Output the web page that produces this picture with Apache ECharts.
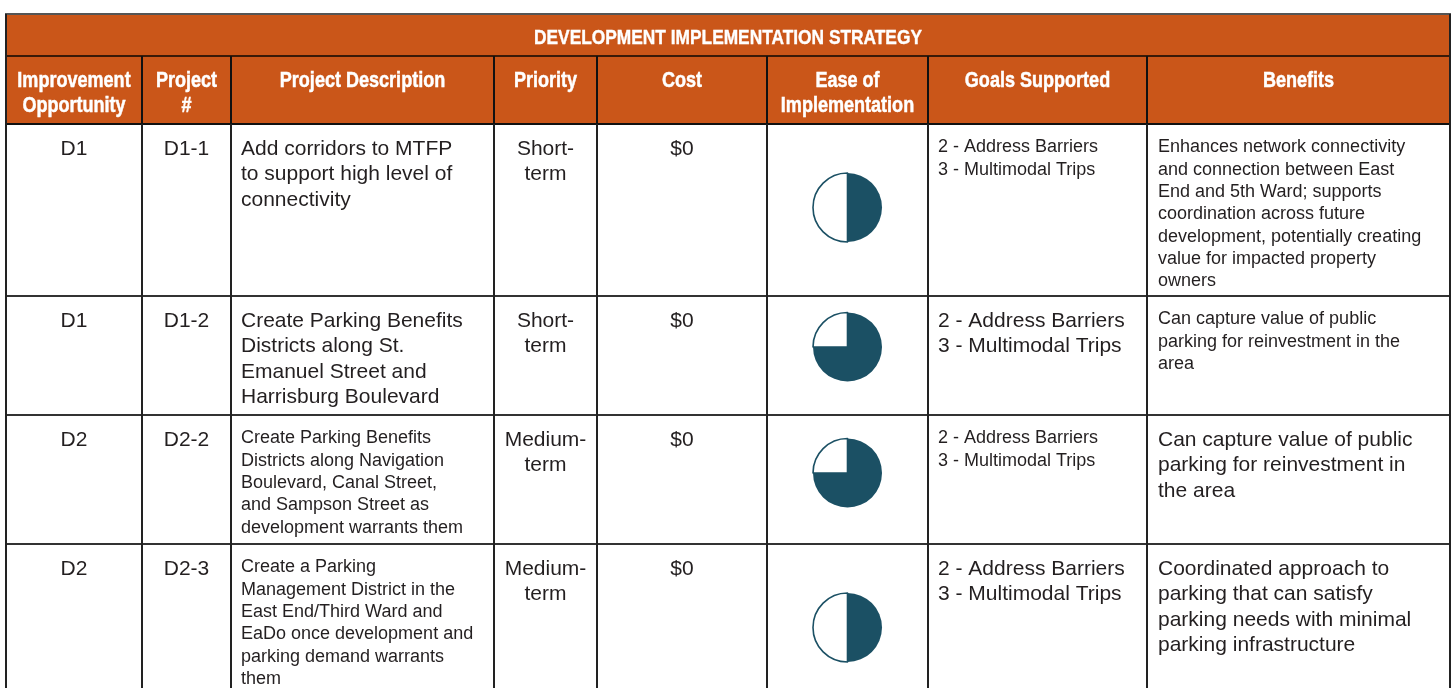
<!DOCTYPE html>
<html>
<head>
<meta charset="utf-8">
<script src="https://cdn.jsdelivr.net/npm/echarts@6/dist/echarts.min.js"></script>
<style>
html,body{margin:0;padding:0;background:#fff;}
#chart{width:1454px;height:688px;}
</style>
</head>
<body>
<div id="chart"></div>
<script>
// ---------- DATA ----------
const tableTitle = 'DEVELOPMENT IMPLEMENTATION STRATEGY';
const columnHeaders = ['Improvement\nOpportunity', 'Project\n#', 'Project Description', 'Priority', 'Cost', 'Ease of\nImplementation', 'Goals Supported', 'Benefits'];
const opportunity = ['D1', 'D1', 'D2', 'D2'];
const projectNo = ['D1-1', 'D1-2', 'D2-2', 'D2-3'];
const description = [
  'Add corridors to MTFP\nto support high level of\nconnectivity',
  'Create Parking Benefits\nDistricts along St.\nEmanuel Street and\nHarrisburg Boulevard',
  'Create Parking Benefits\nDistricts along Navigation\nBoulevard, Canal Street,\nand Sampson Street as\ndevelopment warrants them',
  'Create a Parking\nManagement District in the\nEast End/Third Ward and\nEaDo once development and\nparking demand warrants\nthem'
];
const priority = ['Short-\nterm', 'Short-\nterm', 'Medium-\nterm', 'Medium-\nterm'];
const cost = ['$0', '$0', '$0', '$0'];
const easeFilled = [0.5, 0.75, 0.75, 0.5];   // share of the Harvey ball that is filled
const goals = [
  '2 - Address Barriers\n3 - Multimodal Trips',
  '2 - Address Barriers\n3 - Multimodal Trips',
  '2 - Address Barriers\n3 - Multimodal Trips',
  '2 - Address Barriers\n3 - Multimodal Trips'
];
const benefits = [
  'Enhances network connectivity\nand connection between East\nEnd and 5th Ward; supports\ncoordination across future\ndevelopment, potentially creating\nvalue for impacted property\nowners',
  'Can capture value of public\nparking for reinvestment in the\narea',
  'Can capture value of public\nparking for reinvestment in\nthe area',
  'Coordinated approach to\nparking that can satisfy\nparking needs with minimal\nparking infrastructure'
];

// ---------- LAYOUT / STYLE ----------
const colX = [6, 142, 231, 494, 597, 767, 928, 1147, 1450];
const titleTop = 14, headerTop = 56, bodyTop = 124;
const rowTop = [124, 296, 415, 544, 700];
const pieY = [207.5, 347, 473, 627.5];
const pieR = 34.5;
// text size per cell: 'L' large, 'S' small
const descSize = ['L', 'L', 'S', 'S'];
const goalsSize = ['S', 'L', 'S', 'L'];
const benefitsSize = ['S', 'S', 'L', 'L'];

const ORANGE = '#CA5619';
const DARK = '#1B5064';
const INK = '#231F20';
const BODY_FONT = "'Liberation Sans', Arial, sans-serif";
const sizes = {
  L: { fontSize: 21, lineHeight: 25.5, off: 12 },
  S: { fontSize: 18, lineHeight: 22.3, off: 12.3 }
};

const graphics = [];
// header background
graphics.push({ type: 'rect', shape: { x: colX[0], y: titleTop, width: colX[8] - colX[0], height: bodyTop - titleTop }, style: { fill: ORANGE }, silent: true });

// title
graphics.push({
  type: 'text', x: (colX[0] + colX[8]) / 2, y: 38, scaleX: 0.825, silent: true,
  style: { text: tableTitle, fill: '#fff', stroke: '#fff', lineWidth: 0.4, font: "bold 21px 'Liberation Sans', Arial, sans-serif", align: 'center', verticalAlign: 'middle' }
});
// column headers
columnHeaders.forEach(function (h, c) {
  graphics.push({
    type: 'text', x: (colX[c] + colX[c + 1]) / 2, y: 68, scaleX: 0.82, silent: true,
    style: { text: h, fill: '#fff', stroke: '#fff', lineWidth: 0.5, font: "bold 22px 'Liberation Sans', Arial, sans-serif", lineHeight: 25.3, align: 'center', verticalAlign: 'top' }
  });
});

function cellText(txt, col, row, size, align) {
  const s = sizes[size];
  const x = align === 'center' ? (colX[col] + colX[col + 1]) / 2 : colX[col] + (col === 7 ? 11 : 10);
  graphics.push({
    type: 'text', x: x, y: rowTop[row] + s.off, silent: true,
    style: { text: txt, fill: INK, font: s.fontSize + 'px ' + BODY_FONT, lineHeight: s.lineHeight, align: align, verticalAlign: 'top' }
  });
}
for (let r = 0; r < 4; r++) {
  cellText(opportunity[r], 0, r, 'L', 'center');
  cellText(projectNo[r], 1, r, 'L', 'center');
  cellText(description[r], 2, r, descSize[r], 'left');
  cellText(priority[r], 3, r, 'L', 'center');
  cellText(cost[r], 4, r, 'L', 'center');
  cellText(goals[r], 6, r, goalsSize[r], 'left');
  cellText(benefits[r], 7, r, benefitsSize[r], 'left');
}

// grid lines
function hLine(y, x1, x2, color, w) {
  graphics.push({ type: 'line', shape: { x1: x1, y1: y, x2: x2, y2: y }, style: { stroke: color, lineWidth: w }, silent: true, z: 10 });
}
function vLine(x, y1, y2, color, w) {
  graphics.push({ type: 'line', shape: { x1: x, y1: y1, x2: x, y2: y2 }, style: { stroke: color, lineWidth: w }, silent: true, z: 10 });
}
hLine(titleTop, colX[0] - 1, colX[8] + 1, '#555', 2);
hLine(headerTop, colX[0], colX[8], '#3A1A08', 2);
hLine(bodyTop, colX[0], colX[8], '#111', 2);
for (let r = 1; r < 4; r++) hLine(rowTop[r], colX[0], colX[8], '#333', 2);
vLine(colX[0], titleTop, 688, '#222', 2);
vLine(colX[8], titleTop, 688, '#222', 2);
for (let c = 1; c < 8; c++) {
  vLine(colX[c], headerTop, bodyTop, '#111', 2);
  vLine(colX[c], bodyTop, 688, '#222', 2);
}

// Harvey balls as pie series
const series = easeFilled.map(function (v, i) {
  return {
    type: 'pie',
    center: [(colX[5] + colX[6]) / 2, pieY[i]],
    radius: pieR,
    startAngle: 90,
    clockwise: true,
    silent: true,
    animation: false,
    label: { show: false },
    labelLine: { show: false },
    emphasis: { disabled: true },
    data: [
      { value: v, itemStyle: { color: DARK, borderWidth: 0 } },
      { value: 1 - v, itemStyle: { color: '#fff', borderColor: DARK, borderWidth: 1.6 } }
    ]
  };
});

const chart = echarts.init(document.getElementById('chart'));
chart.setOption({
  animation: false,
  backgroundColor: '#fff',
  graphic: { elements: graphics },
  series: series
});
</script>
</body>
</html>
